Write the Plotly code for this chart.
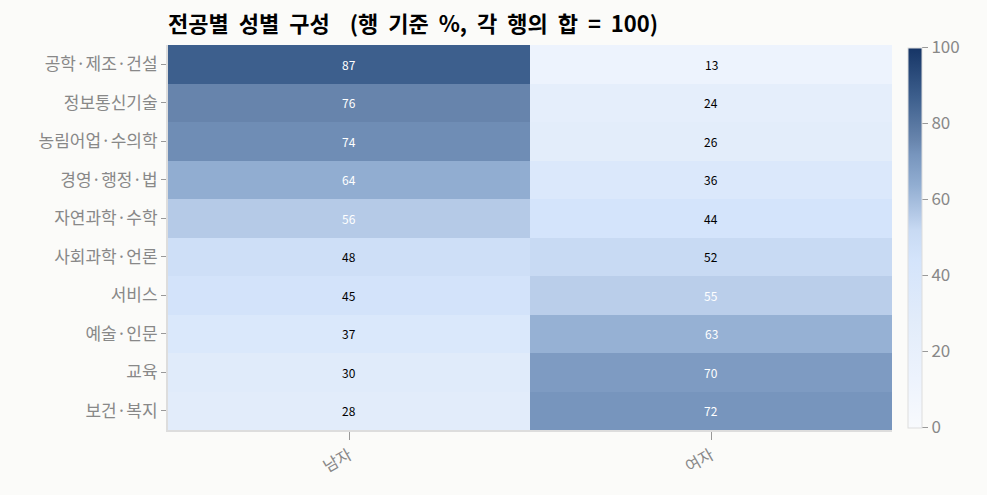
import plotly.graph_objects as go

# 전공별 성별 구성 (행 기준 %)
majors = ["공학·제조·건설", "정보통신기술", "농림어업·수의학", "경영·행정·법", "자연과학·수학",
          "사회과학·언론", "서비스", "예술·인문", "교육", "보건·복지"]
genders = ["남자", "여자"]
male = [87, 76, 74, 64, 56, 48, 45, 37, 30, 28]
female = [13, 24, 26, 36, 44, 52, 55, 63, 70, 72]

z = [[m, f] for m, f in zip(male, female)]

colorscale = [
    [0.0, "#f8fafd"],
    [0.13, "#edf3fd"],
    [0.28, "#e2ecfa"],
    [0.44, "#d4e4fb"],
    [0.52, "#c8daf3"],
    [0.56, "#b5cae7"],
    [0.64, "#91add1"],
    [0.72, "#7795bd"],
    [0.76, "#6784ac"],
    [0.87, "#3d5f8d"],
    [1.0, "#163566"],
]

FONT = "Noto Sans CJK KR"

fig = go.Figure(
    go.Heatmap(
        z=z,
        x=genders,
        y=majors,
        zmin=0,
        zmax=100,
        colorscale=colorscale,
        showscale=True,
        colorbar=dict(
            thickness=14,
            len=380 / 385,
            x=1.0081,
            xanchor="left",
            xpad=10,
            y=0.5,
            yanchor="middle",
            ypad=0,
            outlinecolor="#dddddd",
            outlinewidth=1,
            tickvals=[0, 20, 40, 60, 80, 100],
            ticks="outside",
            ticklen=6,
            tickcolor="#999999",
            tickfont=dict(size=17, color="#888888", family=FONT),
        ),
    )
)

# cell labels: white on dark cells, black on light ones
for major, row in zip(majors, z):
    for gender, val in zip(genders, row):
        fig.add_annotation(
            x=gender, y=major, text=str(val), showarrow=False,
            font=dict(size=12, family=FONT,
                      color="white" if val > 53 else "black"),
        )

title = "전공별  성별  구성    (행  기준  %,  각  행의  합  =  100)"

fig.update_layout(
    width=987,
    height=495,
    margin=dict(l=168, r=95, t=45, b=65),
    paper_bgcolor="#fbfbf9",
    plot_bgcolor="#fbfbf9",
    font=dict(family=FONT),
    title=dict(
        text="<b>" + title + "</b>",
        x=168 / 987, xanchor="left",
        y=0.951, yanchor="middle",
        font=dict(size=22, color="black", family=FONT),
    ),
    xaxis=dict(
        showline=True, linecolor="#dddddd", linewidth=2,
        ticks="outside", ticklen=8, tickcolor="#999999",
        tickangle=-30,
        tickfont=dict(size=16, color="#888888", family=FONT),
        showgrid=False, zeroline=False,
    ),
    yaxis=dict(
        autorange="reversed",
        showline=True, linecolor="#dddddd", linewidth=2,
        ticks="outside", ticklen=5, tickcolor="#999999",
        tickfont=dict(size=17, color="#888888", family=FONT),
        showgrid=False, zeroline=False,
    ),
)

fig.write_html("out.html", config={"displayModeBar": False},
               post_script="document.body.style.margin='0';")
